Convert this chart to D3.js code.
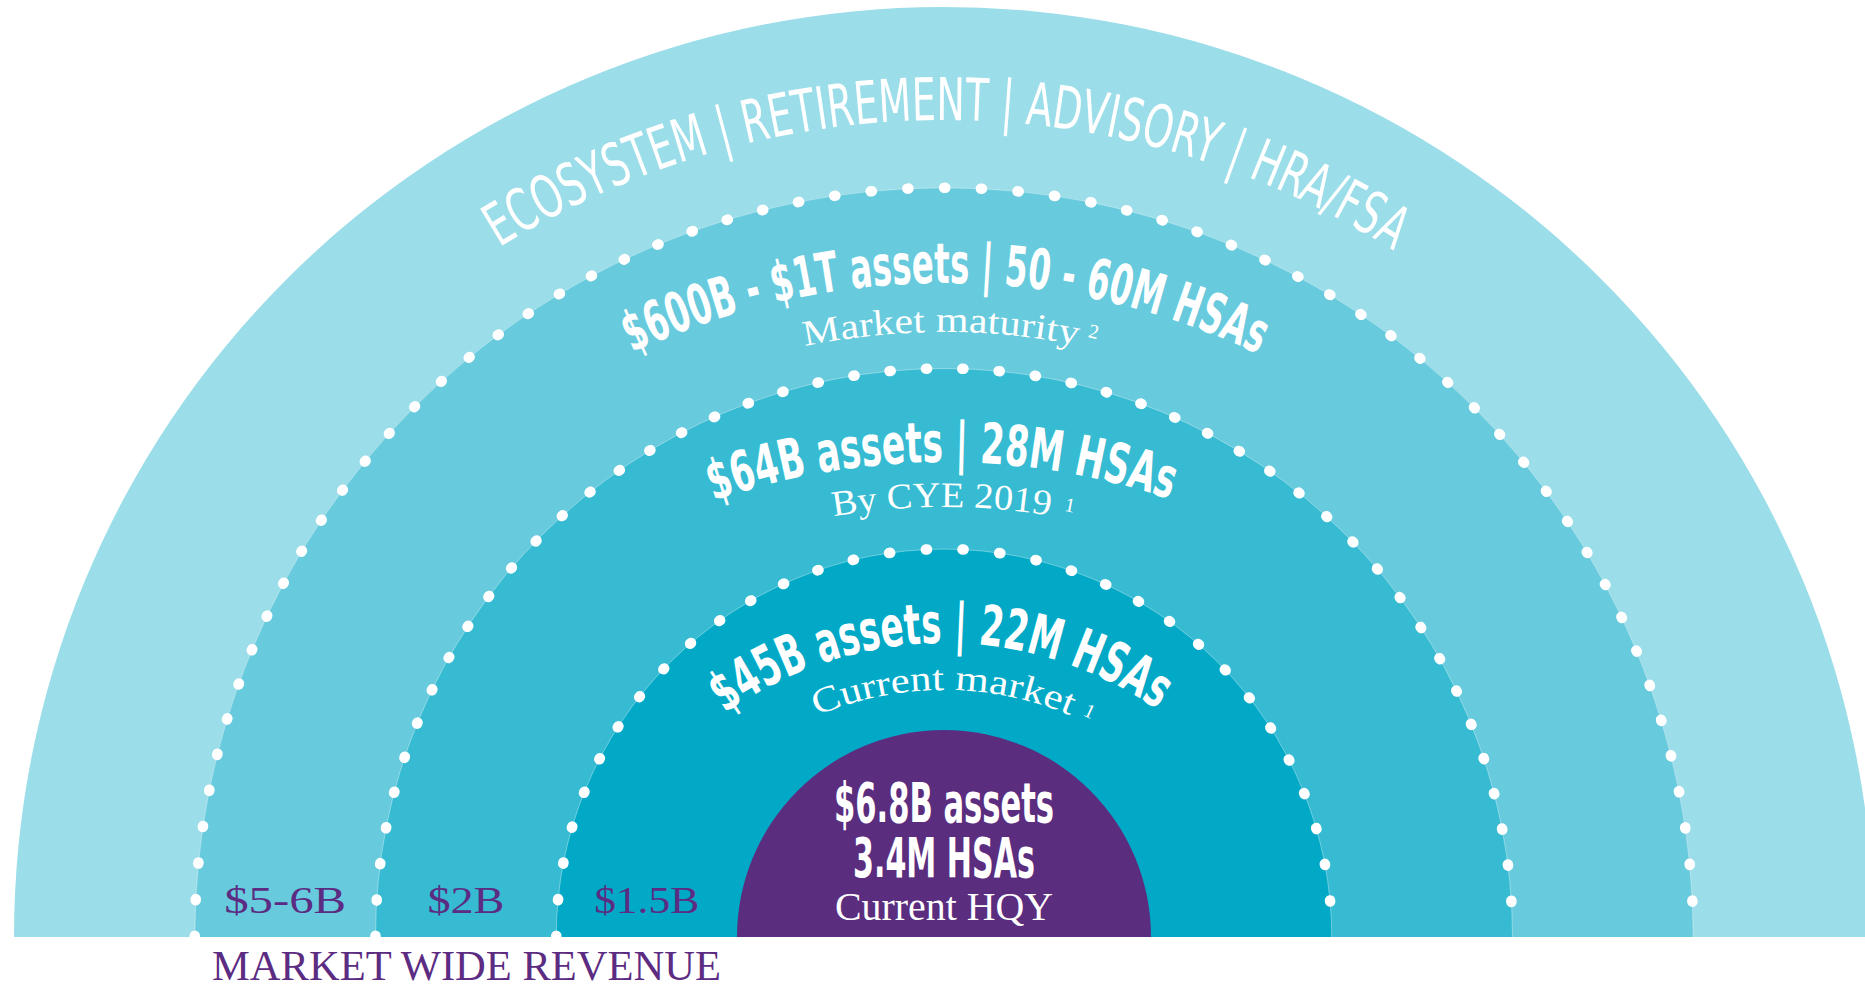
<!DOCTYPE html>
<html>
  <head>
    <meta charset="utf-8">
    <style>
      body { margin: 0; background: #fff; }
      #chart svg { display: block; }
    </style>
  </head>
  <body>
    <div id="chart"></div>
    <script src="https://cdn.jsdelivr.net/npm/d3@7"></script>
    <script>
      // levels, inside out: 0 = HealthEquity today, 4 = whole ecosystem
      const levels = ["Current HQY", "Current market", "By CYE 2019", "Market maturity", "Ecosystem"];
      const headlines = [
        "$6.8B assets",
        "$45B assets | 22M HSAs",
        "$64B assets | 28M HSAs",
        "$600B - $1T assets | 50 - 60M HSAs",
        "ECOSYSTEM | RETIREMENT | ADVISORY | HRA/FSA"
      ];
      const centerAccounts = "3.4M HSAs";
      const footnotes = [null, "1", "1", "2", null];
      const revenue = [null, "$1.5B", "$2B", "$5-6B", null];
      const revenueTitle = "MARKET WIDE REVENUE";

      const width = 1865;
      const height = 990;
      const cx = 944;
      const baseY = 937;

      const fills = ["#5a2d7f", "#01a9c7", "#36bbd2", "#67cadd", "#9bdde8"];
      const purple = "#5b2c82";
      const boldFont = "'Liberation Sans Narrow', 'DejaVu Sans Condensed', 'Liberation Sans', sans-serif";
      const serifFont = "'Liberation Serif', 'DejaVu Serif', serif";

      const r = d3.scaleLinear().domain([0, levels.length - 1]).range([207, 930]);

      const svg = d3.select("#chart")
        .append("svg")
        .attr("width", width)
        .attr("height", height);

      svg.append("rect").attr("width", width).attr("height", height).attr("fill", "#fff");

      // half discs, biggest first
      const half = d3.arc()
        .innerRadius(0)
        .startAngle(-Math.PI / 2)
        .endAngle(Math.PI / 2);

      const g = svg.append("g").attr("transform", `translate(${cx},${baseY})`);

      g.selectAll("path.ring")
        .data(levels.map((d, i) => i).reverse())
        .enter()
        .append("path")
        .attr("class", "ring")
        .attr("d", i => half({ outerRadius: r(i) }))
        .attr("fill", i => fills[i]);

      // dotted edges on the three middle rings
      function edge(rad) {
        const p = d3.path();
        p.moveTo(cx - rad, baseY);
        p.arc(cx, baseY, rad, Math.PI, 2 * Math.PI);
        return p.toString();
      }
      const dotted = [1, 2, 3];
      svg.selectAll("path.edge")
        .data(dotted)
        .enter()
        .append("path")
        .attr("d", i => edge(r(i)))
        .attr("fill", "none")
        .attr("stroke", "#fff")
        .attr("stroke-opacity", 0.35)
        .attr("stroke-width", 1);

      svg.selectAll("path.dots")
        .data(dotted)
        .enter()
        .append("path")
        .attr("d", i => edge(r(i)))
        .attr("fill", "none")
        .attr("stroke", "#fff")
        .attr("stroke-width", 10.5)
        .attr("stroke-linecap", "round")
        .attr("stroke-dasharray", i => {
          const len = Math.PI * r(i);
          const n = Math.round(len / 36.5);
          return `1.2 ${len / n - 1.2}`;
        });

      // arcs the curved labels sit on (angles in degrees from vertical)
      const rad = deg => deg * Math.PI / 180;
      function textArc(cy, rr, a0, a1) {
        const p = d3.path();
        p.moveTo(cx + rr * Math.sin(rad(a0)), cy - rr * Math.cos(rad(a0)));
        p.arc(cx, cy, rr, rad(a0) - Math.PI / 2, rad(a1) - Math.PI / 2);
        return p.toString();
      }

      const arcLayout = [
        null,
        { cy: baseY + 80, head: [374, -35.8, 34.7], sub: [327, -22.9, 22.7], sup: [332, 24.6] },
        { cy: baseY + 226, head: [701, -19.2, 18.8], sub: [656, -9.7, 9.3], sup: [663, 10.4] },
        { cy: baseY + 75, head: [729, -25.3, 25.5], sub: [680, -11.8, 11.3], sup: [690, 12.0] },
        { cy: baseY + 22, head: [839, -32.0, 32.4] }
      ];

      const defs = svg.append("defs");

      function curved(id, cy, spec, txt, size, font, weight) {
        const [rr, a0, a1] = spec;
        defs.append("path").attr("id", id).attr("d", textArc(cy, rr, a0, a1));
        const len = rr * rad(a1 - a0);
        svg.append("text")
          .attr("font-family", font)
          .attr("font-size", size)
          .attr("font-weight", weight)
          .attr("fill", "#fff")
          .append("textPath")
          .attr("href", "#" + id)
          .attr("startOffset", 0)
          .attr("textLength", len)
          .attr("lengthAdjust", "spacingAndGlyphs")
          .text(txt);
      }

      arcLayout.forEach((L, i) => {
        if (!L) return;
        const outer = i === levels.length - 1;
        curved("head" + i, L.cy, L.head, headlines[i], outer ? 59 : 56, boldFont, outer ? 400 : 700);
        if (L.sub) curved("sub" + i, L.cy, L.sub, levels[i], 36, serifFont, 400);
        if (L.sup) {
          defs.append("path").attr("id", "sup" + i)
            .attr("d", textArc(L.cy, L.sup[0], L.sup[1], L.sup[1] + 12));
          svg.append("text")
            .attr("font-family", serifFont)
            .attr("font-size", 20)
            .attr("fill", "#fff")
            .append("textPath")
            .attr("href", "#sup" + i)
            .text(footnotes[i]);
        }
      });

      // centre of the purple half disc
      const centre = [
        { t: headlines[0], y: 822, w: 220, size: 56, font: boldFont, weight: 700 },
        { t: centerAccounts, y: 877, w: 182, size: 56, font: boldFont, weight: 700 },
        { t: levels[0], y: 920, w: 218, size: 40, font: serifFont, weight: 400 }
      ];
      svg.selectAll("text.centre")
        .data(centre)
        .enter()
        .append("text")
        .attr("x", d => cx - d.w / 2)
        .attr("y", d => d.y)
        .attr("textLength", d => d.w)
        .attr("lengthAdjust", "spacingAndGlyphs")
        .attr("font-family", d => d.font)
        .attr("font-size", d => d.size)
        .attr("font-weight", d => d.weight)
        .attr("fill", "#fff")
        .text(d => d.t);

      // revenue per band, centred in each band on the left side
      const revWidth = { "$1.5B": 105, "$2B": 77, "$5-6B": 122 };
      svg.selectAll("text.rev")
        .data(revenue.map((t, i) => ({ t, i })).filter(d => d.t))
        .enter()
        .append("text")
        .attr("x", d => cx - (r(d.i - 1) + r(d.i)) / 2 - revWidth[d.t] / 2)
        .attr("y", 913)
        .attr("textLength", d => revWidth[d.t])
        .attr("lengthAdjust", "spacingAndGlyphs")
        .attr("font-family", serifFont)
        .attr("font-size", 38)
        .attr("fill", purple)
        .text(d => d.t);

      svg.append("text")
        .attr("x", 212)
        .attr("y", 980)
        .attr("textLength", 509)
        .attr("lengthAdjust", "spacingAndGlyphs")
        .attr("font-family", serifFont)
        .attr("font-size", 43)
        .attr("fill", purple)
        .text(revenueTitle);
    </script>
  </body>
</html>
